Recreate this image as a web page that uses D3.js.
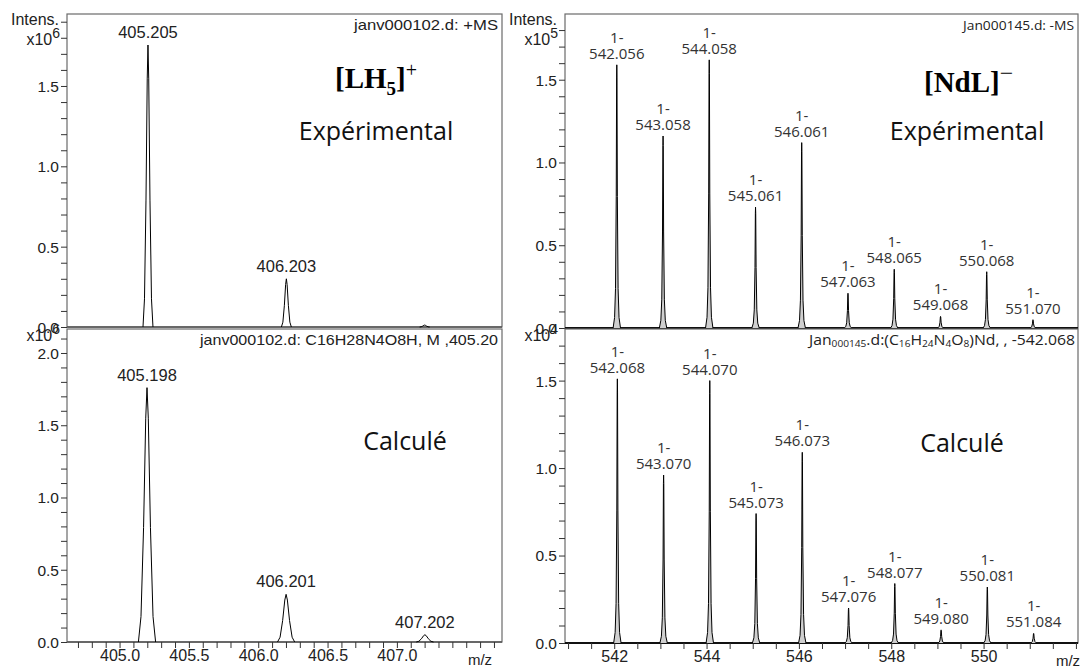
<!DOCTYPE html>
<html><head><meta charset="utf-8">
<script src="https://cdn.jsdelivr.net/npm/d3@7"></script>
<style>
body{margin:0;background:#fff}
text{font-family:"Liberation Sans",Arial,sans-serif}
</style>
</head><body><svg id="c" width="1081" height="668"></svg>
<script>
// ---------- data ----------
const lhExpMz   = [405.205, 406.203, 407.200];
const lhExpInt  = [1.755, 0.300, 0.012];          // x10^6
const lhExpLbl  = ["405.205", "406.203", ""];
const lhCalcMz  = [405.198, 406.201, 407.202];
const lhCalcInt = [1.760, 0.330, 0.050];          // x10^6
const lhCalcLbl = ["405.198", "406.201", "407.202"];

const ndExpMz   = [542.056, 543.058, 544.058, 545.061, 546.061, 547.063, 548.065, 549.068, 550.068, 551.070];
const ndExpInt  = [1.59, 1.16, 1.62, 0.73, 1.12, 0.21, 0.355, 0.07, 0.34, 0.05];   // x10^5
const ndCalcMz  = [542.068, 543.070, 544.070, 545.073, 546.073, 547.076, 548.077, 549.080, 550.081, 551.084];
const ndCalcInt = [1.51, 0.96, 1.50, 0.74, 1.09, 0.20, 0.34, 0.075, 0.32, 0.055];  // x10^4

const yTickLabels = [0.0, 0.5, 1.0, 1.5, 2.0];
const lhXTickLabels = [405.0, 405.5, 406.0, 406.5, 407.0];
const ndXTickLabels = [542, 544, 546, 548, 550];

const svg = d3.select("#c");
const frameCol = "#6a6a6a";

const xL = d3.scaleLinear().domain([404.621, 407.758]).range([67, 502]);
const xR = d3.scaleLinear().domain([540.934, 552.045]).range([565, 1078]);

const panels = [
  {mz: lhExpMz, it: lhExpInt, lbl: lhExpLbl, x: xL, top: 14, zero: 327, ymax: 1.948, exp: "6",
   hw: 0.036, style: "left", header: "janv000102.d: +MS", hlen: 144, intens: true, xaxis: false, pre: ""},
  {mz: lhCalcMz, it: lhCalcInt, lbl: lhCalcLbl, x: xL, top: 329, zero: 642, ymax: 2.166, exp: "6",
   hw: 0.062, style: "left", header: "janv000102.d: C16H28N4O8H, M ,405.20", hlen: 298, intens: false, xaxis: true, pre: ""},
  {mz: ndExpMz, it: ndExpInt, lbl: ndExpMz.map(d => d.toFixed(3)), x: xR, top: 14, zero: 328, ymax: 1.897, exp: "5",
   hw: 0.08, style: "right", header: "Jan000145.d: -MS", hlen: 111, intens: true, xaxis: false, pre: "1-"},
  {mz: ndCalcMz, it: ndCalcInt, lbl: ndCalcMz.map(d => d.toFixed(3)), x: xR, top: 329, zero: 643, ymax: 1.795, exp: "4",
   hw: 0.08, style: "right", header: null, intens: false, xaxis: true, pre: "1-"}
];

// peak profile shape (relative offset, relative height)
const shapeLeft  = [[-1,0],[-0.7,0.1],[-0.4,0.45],[-0.15,0.88],[0,1],[0.15,0.88],[0.4,0.45],[0.7,0.1],[1,0]];
const shapeRight = [[-1,0],[-0.6,0.04],[-0.35,0.15],[-0.15,0.5],[-0.05,0.95],[0,1],[0.05,0.95],[0.15,0.5],[0.35,0.15],[0.6,0.04],[1,0]];

panels.forEach(p => {
  const x = p.x;
  const y = d3.scaleLinear().domain([0, p.ymax]).range([p.zero, p.top]);
  const g = svg.append("g");
  const x0 = x.range()[0], x1 = x.range()[1];
  const left = p.style === "left";

  // frame
  g.append("rect").attr("x", x0).attr("y", p.top).attr("width", x1 - x0).attr("height", p.zero - p.top)
    .attr("fill", "none").attr("stroke", frameCol).attr("stroke-width", 1.2);

  // baseline
  g.append("line").attr("x1", x0).attr("x2", x1).attr("y1", y(0)).attr("y2", y(0))
    .attr("stroke", left ? "#555" : "#111").attr("stroke-width", left ? 1.5 : 2);

  // peaks
  const line = d3.line().x(d => x(d[0])).y(d => y(d[1]));
  p.mz.forEach((m, i) => {
    const shp = left ? shapeLeft : shapeRight;
    const pts = shp.map(s => [m + s[0] * p.hw, s[1] * p.it[i]]);
    g.append("path").attr("d", line(pts))
      .attr("fill", left ? "none" : "#cfcfcf")
      .attr("stroke", "#000").attr("stroke-width", 1);
    if (p.lbl[i]) {
      const lx = x(m);
      if (!left) {
        const ly = y(p.it[i]) - 6;
        g.append("text").attr("x", lx).attr("y", ly - 16).attr("text-anchor", "middle")
          .style("font-family", "'Open Sans',sans-serif").style("font-size", "15px").attr("fill", "#333").text(p.pre);
        g.append("text").attr("x", lx).attr("y", ly).attr("text-anchor", "middle")
          .style("font-family", "'Open Sans',sans-serif").style("font-size", "15px").attr("fill", "#333").text(p.lbl[i]);
      } else {
        g.append("text").attr("x", lx).attr("y", y(p.it[i]) - 7).attr("text-anchor", "middle")
          .style("font-size", "16.5px").attr("fill", "#222").text(p.lbl[i]);
      }
    }
  });

  // y axis
  const yt = d3.range(0, Math.floor(p.ymax * 10 + 1e-6) + 1).map(k => k / 10);
  const ya = d3.axisLeft(y).tickValues(yt).tickSize(6)
    .tickFormat(d => yTickLabels.some(v => Math.abs(v - d) < 1e-6) ? d.toFixed(1) : "");
  const yg = g.append("g").attr("transform", `translate(${x0},0)`).call(ya);
  yg.select(".domain").remove();
  yg.selectAll("line").attr("stroke", "#333");
  yg.selectAll("text").style("font-family", "'Liberation Sans',Arial,sans-serif").style("font-size", "15.5px")
    .attr("fill", "#222").attr("dy", "0.35em").attr("x", -8);
  yg.selectAll("text").filter(function() { return this.textContent === ""; }).remove();

  // intensity label
  const lxp = x0 - 7;
  if (p.intens) {
    g.append("text").attr("x", lxp - 1).attr("y", p.top + 11).attr("text-anchor", "end")
      .style("font-size", "16px").attr("fill", "#222").text("Intens.");
  }
  const ex = g.append("text").attr("x", lxp).attr("y", p.top + (p.intens ? 31 : 12)).attr("text-anchor", "end")
    .style("font-size", "16px").attr("fill", "#222");
  ex.append("tspan").text("x10");
  ex.append("tspan").attr("dy", -7).style("font-size", "14px").text(p.exp);

  // x axis
  if (p.xaxis) {
    const dom = x.domain();
    const step = left ? 0.1 : 0.5;
    const xt = d3.range(Math.ceil(dom[0] / step), Math.floor(dom[1] / step) + 1).map(k => +(k * step).toFixed(2));
    const labs = left ? lhXTickLabels : ndXTickLabels;
    const xa = d3.axisBottom(x).tickValues(xt).tickSize(6)
      .tickFormat(d => labs.some(v => Math.abs(v - d) < 1e-6) ? (left ? d.toFixed(1) : d3.format("d")(d)) : "");
    const xg = g.append("g").attr("transform", `translate(0,${p.zero})`).call(xa);
    xg.select(".domain").remove();
    xg.selectAll("line").attr("stroke", "#333");
    xg.selectAll("text").style("font-family", "'Liberation Sans',Arial,sans-serif").style("font-size", "16px")
      .attr("fill", "#222").attr("y", 8);
    xg.selectAll("text").filter(function() { return this.textContent === ""; }).remove();
    g.append("text").attr("x", left ? x1 - 22 : x1 - 10).attr("y", p.zero + 23).attr("text-anchor", "middle")
      .style("font-size", "15px").attr("fill", "#222").text("m/z");
  }

  // header
  if (p.header) {
    g.append("text").attr("x", x1 - 4 - p.hlen).attr("y", p.top + 16)
      .attr("textLength", p.hlen).attr("lengthAdjust", "spacingAndGlyphs")
      .style("font-family", left ? "'Liberation Sans',Arial,sans-serif" : "'Open Sans',sans-serif")
      .style("font-size", left ? "15px" : "13px").attr("fill", "#222").text(p.header);
  }
});

// subscript header for bottom-right panel
{
  const t = svg.append("text").attr("x", 1075 - 266).attr("y", 345)
    .attr("textLength", 266).attr("lengthAdjust", "spacingAndGlyphs")
    .style("font-family", "'Open Sans',sans-serif").style("font-size", "14px").attr("fill", "#222");
  const parts = [["Jan",0],["000145",1],[".d:(C",0],["16",1],["H",0],["24",1],["N",0],["4",1],["O",0],["8",1],[")Nd, , -542.068",0]];
  parts.forEach(([s, sub], i) => {
    const ts = t.append("tspan").text(s);
    if (sub) ts.style("font-size", "9px").attr("dy", 2);
    else if (i > 0) ts.attr("dy", -2);
  });
}

// big annotations
function formula(xp, yp, parts) {
  const t = svg.append("text").attr("x", xp).attr("y", yp)
    .style("font-family", "'Liberation Serif','DejaVu Serif',serif").style("font-weight", "bold")
    .style("font-size", "29px").attr("fill", "#000");
  parts.forEach(pt => {
    const s = t.append("tspan").text(pt.t);
    if (pt.sub) s.attr("dy", 7).style("font-size", "19px");
    if (pt.sup) s.attr("dy", pt.dy).style("font-size", pt.fs || "20px").style("font-weight", "normal");
    if (pt.back) s.attr("dy", pt.back);
  });
}
formula(335, 88, [{t: "[LH"}, {t: "5", sub: true}, {t: "]", back: -7}, {t: "+", sup: true, dy: -11}]);
formula(924, 92, [{t: "[NdL]"}, {t: "\u2212", sup: true, dy: -11, fs: "24px"}]);

const big = [
  {x: 376, y: 140, t: "Expérimental"},
  {x: 405, y: 450, t: "Calculé"},
  {x: 967, y: 140, t: "Expérimental"},
  {x: 962, y: 452, t: "Calculé"}
];
big.forEach(b => svg.append("text").attr("x", b.x).attr("y", b.y).attr("text-anchor", "middle")
  .style("font-family", "'Open Sans',sans-serif").style("font-size", "25px").attr("fill", "#111").text(b.t));
</script>
</body></html>
